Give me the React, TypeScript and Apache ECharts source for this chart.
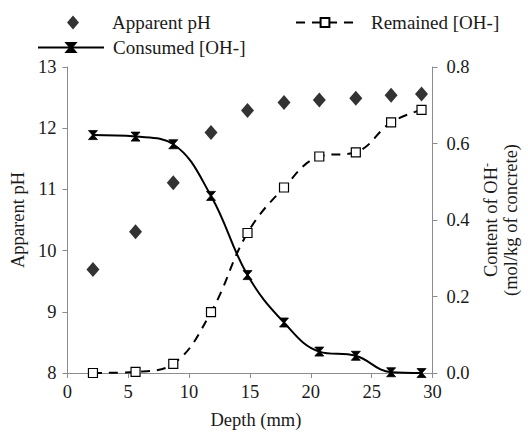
import React, { useEffect, useRef } from "react";
import * as echarts from "echarts";

const depths = [2.1, 5.6, 8.7, 11.8, 14.8, 17.8, 20.7, 23.7, 26.6, 29.1];
const apparentPH = [9.69, 10.31, 11.11, 11.93, 12.29, 12.42, 12.46, 12.49, 12.54, 12.56];
const consumedOH = [0.622, 0.618, 0.598, 0.463, 0.256, 0.132, 0.056, 0.045, 0.002, 0.0];
const remainedOH = [0.0, 0.003, 0.024, 0.159, 0.366, 0.485, 0.566, 0.577, 0.655, 0.688];

const FONT = '"Times New Roman", "Liberation Serif", "DejaVu Serif", serif';
const TEXT = "#1a1a1a";
const AXIS = "#8c8c8c";

const starPath = "path://M0,0 L10,0 L5.6,5 L10,10 L0,10 L4.4,5 Z";

export default function App() {
  const ref = useRef<HTMLDivElement>(null);
  useEffect(() => {
    if (!ref.current) return;
    const chart = echarts.init(ref.current, undefined, { renderer: "svg" });
    const pair = (ys: number[]) => depths.map((d, i) => [d, ys[i]]);
    chart.setOption({
      animation: false,
      backgroundColor: "#fff",
      textStyle: { fontFamily: FONT, color: TEXT },
      grid: { left: 67, right: 81, top: 67, bottom: 64, containLabel: false },
      legend: [
        {
          data: ["Apparent pH"],
          left: 62,
          top: 8,
          itemWidth: 12,
          itemHeight: 14,
          symbolKeepAspect: false,
          textStyle: { fontFamily: FONT, fontSize: 19, color: TEXT, padding: [0, 0, 0, 28] },
        },
        {
          data: ["Remained [OH-]"],
          left: 290,
          top: 8,
          itemWidth: 58,
          itemHeight: 11,
          textStyle: { fontFamily: FONT, fontSize: 19, color: TEXT, padding: [0, 0, 0, 12] },
        },
        {
          data: ["Consumed [OH-]"],
          left: 32,
          top: 33,
          itemWidth: 66,
          itemHeight: 11,
          textStyle: { fontFamily: FONT, fontSize: 19, color: TEXT, padding: [0, 0, 0, 4] },
        },
      ],
      xAxis: {
        type: "value",
        min: 0,
        max: 30,
        interval: 5,
        name: "Depth (mm)",
        nameLocation: "middle",
        nameGap: 37,
        nameTextStyle: { fontFamily: FONT, fontSize: 18.5, color: TEXT, padding: [0, 0, 0, 12] },
        axisLine: { show: true, lineStyle: { color: AXIS, width: 1 } },
        axisTick: { show: true, inside: false, length: 5, lineStyle: { color: AXIS } },
        axisLabel: { margin: 9, fontFamily: FONT, fontSize: 18.5, color: TEXT },
        splitLine: { show: false },
      },
      yAxis: [
        {
          type: "value",
          min: 8,
          max: 13,
          interval: 1,
          position: "left",
          name: "Apparent pH",
          nameLocation: "middle",
          nameGap: 36,
          nameRotate: 90,
          nameTextStyle: { fontFamily: FONT, fontSize: 18.5, color: TEXT },
          axisLine: { show: true, lineStyle: { color: AXIS, width: 1 } },
          axisTick: { show: true, inside: false, length: 5, lineStyle: { color: AXIS } },
          axisLabel: { margin: 11, fontFamily: FONT, fontSize: 18.5, color: TEXT },
          splitLine: { show: false },
        },
        {
          type: "value",
          min: 0,
          max: 0.8,
          interval: 0.2,
          position: "right",
          name: "{a|Content of OH}{s|-}\n{a|(mol/kg of concrete)}",
          nameLocation: "middle",
          nameGap: 43,
          nameRotate: 90,
          nameTextStyle: {
            fontFamily: FONT,
            fontSize: 18.5,
            color: TEXT,
            rich: {
              a: { fontFamily: FONT, fontSize: 18.5, color: TEXT, lineHeight: 20 },
              s: { fontFamily: FONT, fontSize: 12, color: TEXT, lineHeight: 20, verticalAlign: "top" },
            },
          },
          axisLine: { show: true, lineStyle: { color: AXIS, width: 1 } },
          axisTick: { show: true, inside: false, length: 5, lineStyle: { color: AXIS } },
          axisLabel: {
            margin: 14,
            fontFamily: FONT,
            fontSize: 18.5,
            color: TEXT,
            formatter: (v: number) => v.toFixed(1),
          },
          splitLine: { show: false },
        },
      ],
      series: [
        {
          name: "Apparent pH",
          type: "scatter",
          yAxisIndex: 0,
          symbol: "diamond",
          symbolSize: [13, 15],
          itemStyle: { color: "#000" },
          data: pair(apparentPH),
        },
        {
          name: "Consumed [OH-]",
          type: "line",
          yAxisIndex: 1,
          smooth: 0.4,
          symbol: starPath,
          symbolSize: 9,
          showAllSymbol: true,
          lineStyle: { color: "#000", width: 2, type: "solid" },
          itemStyle: { color: "#000", borderColor: "#000", borderWidth: 0.8 },
          data: pair(consumedOH),
        },
        {
          name: "Remained [OH-]",
          type: "line",
          yAxisIndex: 1,
          smooth: 0.4,
          symbol: "rect",
          symbolSize: 9,
          showAllSymbol: true,
          lineStyle: { color: "#000", width: 2, type: [9, 7] },
          itemStyle: { color: "#fff", borderColor: "#000", borderWidth: 1.2 },
          data: pair(remainedOH),
        },
      ],
    });
    return () => chart.dispose();
  }, []);
  return (
    <div
      ref={ref}
      style={{ position: "fixed", left: 0, top: 0, width: 528, height: 437, background: "#fff" }}
    />
  );
}
